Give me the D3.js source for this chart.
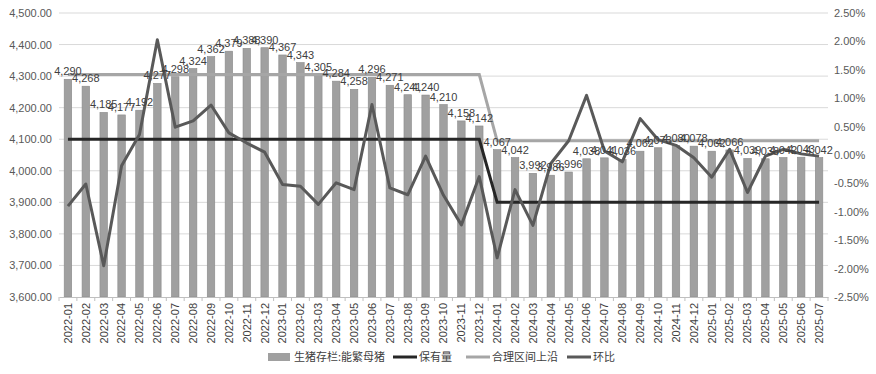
<!DOCTYPE html>
<html>
<head>
<meta charset="utf-8">
<script src="https://cdn.jsdelivr.net/npm/d3@7"></script>
<style>
  body { margin: 0; background: #fff; }
  text { font-family: "Liberation Sans", "Noto Sans CJK SC", sans-serif; }
</style>
</head>
<body>
<div id="chart"></div>
<script>
// Months
var months = ['2022-01','2022-02','2022-03','2022-04','2022-05','2022-06','2022-07','2022-08','2022-09','2022-10','2022-11','2022-12',
  '2023-01','2023-02','2023-03','2023-04','2023-05','2023-06','2023-07','2023-08','2023-09','2023-10','2023-11','2023-12',
  '2024-01','2024-02','2024-03','2024-04','2024-05','2024-06','2024-07','2024-08','2024-09','2024-10','2024-11','2024-12',
  '2025-01','2025-02','2025-03','2025-04','2025-05','2025-06','2025-07'];

// 生猪存栏:能繁母猪 (万头)
var sows = [4290,4268,4185,4177,4192,4277,4298,4324,4362,4379,4388,4390,
  4367,4343,4305,4284,4258,4296,4271,4241,4240,4210,4158,4142,
  4067,4042,3992,3986,3996,4038,4041,4036,4062,4073,4080,4078,
  4062,4066,4039,4038,4042,4043,4042];

// 保有量
var holding = [4100,4100,4100,4100,4100,4100,4100,4100,4100,4100,4100,4100,
  4100,4100,4100,4100,4100,4100,4100,4100,4100,4100,4100,4100,
  3900,3900,3900,3900,3900,3900,3900,3900,3900,3900,3900,3900,
  3900,3900,3900,3900,3900,3900,3900];

// 合理区间上沿
var upper = [4305,4305,4305,4305,4305,4305,4305,4305,4305,4305,4305,4305,
  4305,4305,4305,4305,4305,4305,4305,4305,4305,4305,4305,4305,
  4095,4095,4095,4095,4095,4095,4095,4095,4095,4095,4095,4095,
  4095,4095,4095,4095,4095,4095,4095];

// 环比 (%)
var mom = [-0.90,-0.51,-1.95,-0.19,0.36,2.03,0.49,0.60,0.88,0.39,0.21,0.05,
  -0.52,-0.55,-0.87,-0.49,-0.61,0.89,-0.58,-0.70,-0.02,-0.71,-1.23,-0.38,
  -1.81,-0.61,-1.24,-0.15,0.25,1.05,0.07,-0.12,0.64,0.27,0.17,-0.05,
  -0.39,0.10,-0.66,-0.02,0.10,0.02,-0.02];

var leftTicks = [3600,3700,3800,3900,4000,4100,4200,4300,4400,4500];
var rightTicks = [-2.5,-2,-1.5,-1,-0.5,0,0.5,1,1.5,2,2.5];

var W = 876, H = 374;
var margin = {top: 13, right: 48, bottom: 77, left: 59},
    width = W - margin.left - margin.right,
    height = H - margin.top - margin.bottom;

var x = d3.scaleBand().domain(months).range([0, width]).paddingInner(0.58).paddingOuter(0.29),
    y = d3.scaleLinear().domain([3600, 4500]).range([height, 0]),
    y2 = d3.scaleLinear().domain([-2.5, 2.5]).range([height, 0]);

function cx(d, i) { return x(months[i]) + x.bandwidth() / 2; }

var svg = d3.select('#chart').append('svg')
    .attr('width', W).attr('height', H);
var chart = svg.append('g')
    .attr('transform', 'translate(' + margin.left + ',' + margin.top + ')');

// Gridlines
chart.append('g').selectAll('line')
    .data(leftTicks.slice(1))
    .enter().append('line')
    .attr('x1', 0).attr('x2', width)
    .attr('y1', function(d) { return y(d); })
    .attr('y2', function(d) { return y(d); })
    .attr('stroke', '#d9d9d9').attr('stroke-width', 1);

// Bars
chart.append('g').selectAll('rect')
    .data(sows)
    .enter().append('rect')
    .attr('x', function(d, i) { return x(months[i]); })
    .attr('y', function(d) { return y(d); })
    .attr('width', x.bandwidth())
    .attr('height', function(d) { return height - y(d); })
    .attr('fill', '#a0a0a0')
    .attr('stroke', '#8a8a8a').attr('stroke-width', 0.6);

// Lines
var lineL = d3.line().x(cx).y(function(d) { return y(d); });
var lineR = d3.line().x(cx).y(function(d) { return y2(d); });

chart.append('path')
    .attr('d', lineL(upper))
    .attr('fill', 'none').attr('stroke', '#a6a6a6').attr('stroke-width', 3);
chart.append('path')
    .attr('d', lineL(holding))
    .attr('fill', 'none').attr('stroke', '#262626').attr('stroke-width', 3);
chart.append('path')
    .attr('d', lineR(mom))
    .attr('fill', 'none').attr('stroke', '#595959').attr('stroke-width', 3)
    .attr('stroke-linejoin', 'round');

// Data labels
chart.append('g').selectAll('text')
    .data(sows)
    .enter().append('text')
    .attr('x', cx)
    .attr('y', function(d) { return y(d) - 4; })
    .attr('text-anchor', 'middle')
    .attr('font-size', 11)
    .attr('fill', '#404040')
    .text(function(d) { return d3.format(',')(d); });

// Left axis
var yAxis = d3.axisLeft(y).tickValues(leftTicks).tickFormat(d3.format(',.2f')).tickSize(0).tickPadding(7);
var gy = chart.append('g').call(yAxis);
gy.select('.domain').remove();
gy.selectAll('text').attr('font-size', 11).attr('fill', '#595959').style('font-family', '"Liberation Sans", sans-serif');

// Right axis
var y2Axis = d3.axisRight(y2).tickValues(rightTicks)
    .tickFormat(function(d) { return d.toFixed(2) + '%'; }).tickSize(0).tickPadding(6);
var gy2 = chart.append('g').attr('transform', 'translate(' + width + ',0)').call(y2Axis);
gy2.select('.domain').remove();
gy2.selectAll('text').attr('font-size', 11).attr('fill', '#595959').style('font-family', '"Liberation Sans", sans-serif');

// X axis
var xAxis = d3.axisBottom(x).tickSize(0).tickSizeOuter(0);
var gx = chart.append('g').attr('transform', 'translate(0,' + height + ')').call(xAxis);
gx.select('.domain').attr('stroke', '#bfbfbf');
gx.selectAll('text')
    .attr('font-size', 11).attr('fill', '#404040')
    .style('font-family', '"Liberation Sans", sans-serif')
    .attr('transform', 'rotate(-90)')
    .attr('text-anchor', 'end')
    .attr('x', -6).attr('y', 0).attr('dy', '0.35em');
// boundary ticks
gx.append('g').selectAll('line')
    .data(months.concat(['end']))
    .enter().append('line')
    .attr('x1', function(d, i) { return i * x.step(); })
    .attr('x2', function(d, i) { return i * x.step(); })
    .attr('y1', 0).attr('y2', 4)
    .attr('stroke', '#bfbfbf');

// Legend
var legendItems = [
  {name: '生猪存栏:能繁母猪', type: 'rect', color: '#a0a0a0', x: 268},
  {name: '保有量', type: 'line', color: '#262626', x: 393},
  {name: '合理区间上沿', type: 'line', color: '#a6a6a6', x: 466},
  {name: '环比', type: 'line', color: '#595959', x: 567}
];
var legend = svg.append('g').attr('transform', 'translate(0,357)');
legendItems.forEach(function(it) {
  if (it.type === 'rect') {
    legend.append('rect').attr('x', it.x).attr('y', -4).attr('width', 22).attr('height', 8).attr('fill', it.color);
  } else {
    legend.append('line').attr('x1', it.x).attr('x2', it.x + 24).attr('y1', 0).attr('y2', 0)
      .attr('stroke', it.color).attr('stroke-width', 3);
  }
  legend.append('text').attr('x', it.x + 26).attr('y', 0).attr('dy', '0.35em')
    .attr('font-size', 11).attr('fill', '#404040')
    .style('font-family', '"Noto Sans CJK SC", sans-serif')
    .text(it.name);
});
</script>
</body>
</html>
